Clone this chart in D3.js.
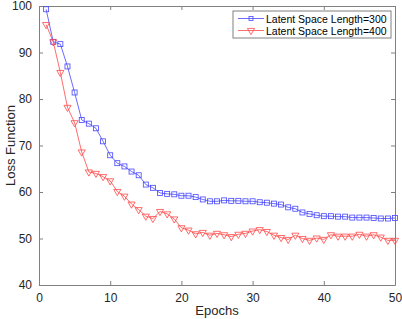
<!DOCTYPE html>
<html lang="en">
<head>
<meta charset="UTF-8">
<title>Loss Function vs Epochs</title>
<style>
    body { margin: 0; padding: 0; background: #fff; }
    svg { display: block; font-family: "Liberation Sans", Arial, sans-serif; }
    .axis text { font-size: 12px; fill: #262626; }
    .axis path, .axis line { stroke: #808080; }
</style>
</head>
<body>
<div id="chart"></div>
<script src="https://d3js.org/d3.v7.min.js"></script>
<script>
// epochs 1..50
const epochs = d3.range(1, 51);

const loss300 = [99.3, 92.3, 91.8, 87.0, 81.4, 75.5, 74.7, 73.7, 70.9, 67.9,
    66.2, 65.5, 64.4, 63.6, 61.6, 60.9, 59.8, 59.6, 59.5, 59.2,
    59.2, 58.9, 58.4, 58.0, 58.0, 58.2, 58.1, 58.1, 58.0, 58.0,
    57.8, 57.7, 57.5, 57.3, 56.7, 56.4, 55.6, 55.3, 55.0, 54.8,
    54.8, 54.7, 54.7, 54.5, 54.5, 54.5, 54.4, 54.3, 54.3, 54.4];

const loss400 = [96.0, 92.3, 85.7, 78.2, 74.9, 68.6, 64.3, 64.0, 63.3, 62.4,
    60.1, 59.1, 57.4, 56.2, 54.8, 54.3, 55.8, 55.3, 54.2, 52.3,
    51.8, 51.0, 51.3, 50.7, 51.1, 50.8, 50.4, 50.9, 51.1, 51.6,
    51.9, 51.5, 50.7, 50.2, 49.8, 50.7, 50.0, 49.6, 50.1, 49.8,
    50.8, 50.5, 50.5, 50.5, 50.9, 50.5, 50.8, 50.3, 49.6, 49.6];

const seriesNames = ["Latent Space Length=300", "Latent Space Length=400"];
const xTicks = [0, 10, 20, 30, 40, 50];
const yTicks = [40, 50, 60, 70, 80, 90, 100];

const svgWidth = 402, svgHeight = 319;
const margin = { top: 6, right: 7, bottom: 34, left: 39 };
const width = svgWidth - margin.left - margin.right;
const height = svgHeight - margin.top - margin.bottom;

const svg = d3.select("#chart").append("svg")
    .attr("width", svgWidth)
    .attr("height", svgHeight);

const g = svg.append("g")
    .attr("transform", "translate(" + margin.left + "," + margin.top + ")");

const x = d3.scaleLinear().domain([0, 50]).range([0, width]);
const y = d3.scaleLinear().domain([40, 100]).range([height, 0]);

// axes, ticks pointing inward, mirrored on top/right
g.append("g").attr("class", "axis")
    .attr("transform", "translate(0," + height + ")")
    .call(d3.axisBottom(x).tickValues(xTicks).tickSizeInner(-4).tickSizeOuter(0).tickPadding(8));
g.append("g").attr("class", "axis")
    .call(d3.axisLeft(y).tickValues(yTicks).tickSizeInner(-4).tickSizeOuter(0).tickPadding(7));
g.append("g").attr("class", "axis")
    .call(d3.axisTop(x).tickValues(xTicks).tickSizeInner(-4).tickSizeOuter(0).tickFormat(""));
g.append("g").attr("class", "axis")
    .attr("transform", "translate(" + width + ",0)")
    .call(d3.axisRight(y).tickValues(yTicks).tickSizeInner(-4).tickSizeOuter(0).tickFormat(""));

g.selectAll(".axis path").attr("stroke-width", 1);

// axis labels
svg.append("text")
    .attr("x", margin.left + width / 2)
    .attr("y", 315)
    .attr("text-anchor", "middle")
    .attr("font-size", 13)
    .attr("fill", "#262626")
    .text("Epochs");

svg.append("text")
    .attr("transform", "translate(15," + (margin.top + height / 2) + ") rotate(-90)")
    .attr("text-anchor", "middle")
    .attr("font-size", 13)
    .attr("fill", "#262626")
    .text("Loss Function");

const line = d3.line()
    .x((d, i) => x(epochs[i]))
    .y(d => y(d));

const blue = "#4646ff", red = "#ff4646";
const tri = d3.symbol().type(d3.symbolTriangle).size(22);

// series 300 - squares
g.append("path").datum(loss300)
    .attr("fill", "none").attr("stroke", blue).attr("stroke-width", 0.8)
    .attr("d", line);
g.selectAll(".sq").data(loss300).enter().append("rect")
    .attr("x", (d, i) => x(epochs[i]) - 2.5)
    .attr("y", d => y(d) - 2.5)
    .attr("width", 5).attr("height", 5)
    .attr("fill", "none").attr("stroke", blue).attr("stroke-width", 0.8);

// series 400 - downward triangles
g.append("path").datum(loss400)
    .attr("fill", "none").attr("stroke", red).attr("stroke-width", 0.8)
    .attr("d", line);
g.selectAll(".tri").data(loss400).enter().append("path")
    .attr("d", tri)
    .attr("transform", (d, i) => "translate(" + x(epochs[i]) + "," + y(d) + ") rotate(180)")
    .attr("fill", "none").attr("stroke", red).attr("stroke-width", 0.8);

// legend
const lg = svg.append("g").attr("transform", "translate(233,11)");
lg.append("rect").attr("width", 158).attr("height", 27)
    .attr("fill", "#fff").attr("stroke", "#808080").attr("stroke-width", 1);
[blue, red].forEach((c, i) => {
    const yy = 7.5 + i * 12;
    lg.append("line").attr("x1", 5).attr("x2", 31).attr("y1", yy).attr("y2", yy)
        .attr("stroke", c).attr("stroke-width", 0.8);
    if (i === 0) {
        lg.append("rect").attr("x", 16).attr("y", yy - 2).attr("width", 4).attr("height", 4)
            .attr("fill", "none").attr("stroke", c).attr("stroke-width", 0.8);
    } else {
        lg.append("path").attr("d", tri)
            .attr("transform", "translate(18," + yy + ") rotate(180)")
            .attr("fill", "none").attr("stroke", c).attr("stroke-width", 0.8);
    }
    lg.append("text").attr("x", 33).attr("y", yy + 4)
        .attr("font-size", 10.5).attr("fill", "#000")
        .text(seriesNames[i]);
});
</script>
</body>
</html>
